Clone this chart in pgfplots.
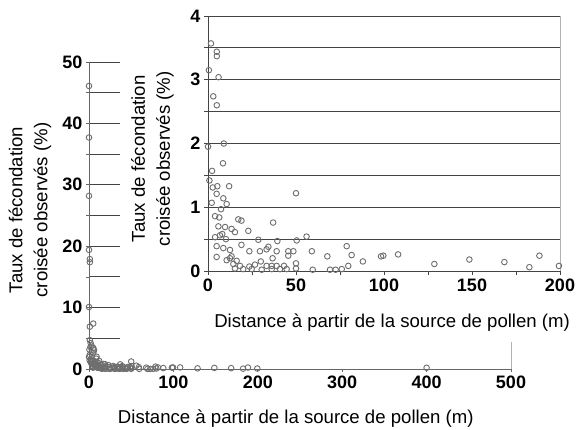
\documentclass[border=0pt]{standalone}
\usepackage{pgfplots}
\pgfplotsset{compat=1.18}
\usepackage{pgfplotstable}
\usepackage{fontspec}
\setmainfont{Liberation Sans}

\definecolor{gridc}{HTML}{444444}
\definecolor{axc}{HTML}{666666}
\definecolor{mk}{HTML}{6E6E6E}

% distance (m), taux (%)
\pgfplotstableread{
x y
1.7 3.57
5 3.44
5 3.37
0.5 3.15
6 3.04
3 2.74
5 2.60
0 1.95
9 2.00
8.5 1.69
2.3 1.57
0.8 1.42
2.7 1.31
5.3 1.33
12 1.33
4.9 1.21
8.7 1.14
10.6 1.05
2.1 1.07
7.4 0.97
50 1.22
4 0.86
6.4 0.84
17.2 0.81
19 0.79
37 0.76
5.9 0.70
9.7 0.69
13.4 0.66
15.3 0.61
22.9 0.63
4 0.53
6.8 0.56
8.1 0.58
10.2 0.50
28.6 0.49
39.4 0.47
50.4 0.48
56 0.54
4.9 0.39
8.7 0.36
12.5 0.33
19 0.41
23.5 0.31
29.5 0.31
33.3 0.34
34.3 0.38
39 0.31
45.6 0.31
48.5 0.31
59 0.31
67.8 0.23
78.8 0.39
81.6 0.25
88 0.15
98.3 0.23
4.9 0.22
12.5 0.20
16.3 0.16
36.7 0.20
45.6 0.24
30 0.15
14.4 0.11
18.2 0.08
15.3 0.04
20 0.03
23.5 0.07
26.7 0.10
33.3 0.08
36.2 0.08
39 0.08
43.2 0.08
50 0.12
50 0.04
24.8 0.03
30.5 0.02
36.2 0.03
40.9 0.03
44.7 0.03
59.5 0.02
69.3 0.02
72.5 0.02
76 0.03
79.7 0.08
10.6 0.17
13.4 0.23
99.6 0.24
108 0.26
128.6 0.11
148.5 0.18
168.4 0.14
182.6 0.06
188.3 0.24
199.4 0.08
}\pres

% points hors de l'encart
\pgfplotstableread{
x y
0 46.1
0 37.7
0 28.2
0 19.4
1 17.9
1 17.4
0 10.1
1 6.9
5 7.4
1 4.7
2 4.2
3 3.8
1 2.3
400 0.2
}\loin

\tikzset{
  labfont/.style={font=\fontsize{18.6}{25}\selectfont, align=center},
  tickfont/.style={font=\bfseries\fontsize{18}{18}\selectfont},
}
\pgfplotsset{
  pts/.style={only marks, mark=o, mark size=2.8pt, mark options={draw=mk, fill=white, line width=0.9pt}},
}

\begin{document}
\begin{tikzpicture}
\useasboundingbox (0,0) rectangle (578pt,429pt);

% graphe principal
\begin{axis}[
    at={(89pt,60pt)}, anchor=south west,
    scale only axis, width=422pt, height=307pt,
    xmin=0, xmax=500, ymin=0, ymax=50,
    axis x line*=bottom, axis y line*=left,
    axis line style={axc, line width=0.8pt},
    xtick={0,100,...,500}, ytick={0,5,...,50},
    yticklabels={0,,10,,20,,30,,40,,50},
    extra x ticks={500}, extra x tick labels={},
    extra x tick style={grid=major, major grid style={gray!60, line width=0.8pt}},
    ymajorgrids, major grid style={gridc, line width=0.9pt},
    tick style={axc, line width=0.8pt}, major tick length=3pt, tick align=outside,
    ticklabel style={tickfont},
    /pgf/number format/assume math mode=true,
    xlabel={Distance à partir de la source de pollen (m)},
    ylabel={Taux de fécondation\\croisée observés (\%)},
    xlabel style={labfont, at={(axis description cs:0.49,-0.162)}, anchor=center},
    ylabel style={labfont, at={(axis description cs:-0.14,0.518)}, anchor=center},
    clip=false,
]
\addplot[pts] table[x=x, y=y] {\pres};
\addplot[pts] table[x=x, y=y] {\loin};
\end{axis}

\fill[white] (120pt,87pt) rectangle (578pt,429pt);

% encart 0-200 m
\begin{axis}[
    at={(208pt,158pt)}, anchor=south west,
    scale only axis, width=352pt, height=255pt,
    xmin=0, xmax=200, ymin=0, ymax=4,
    axis x line*=bottom, axis y line*=left,
    axis line style={gridc, line width=0.8pt},
    xtick={0,25,...,200}, xticklabels={0,,50,,100,,150,,200},
    ytick={0,0.5,...,4}, yticklabels={0,,1,,2,,3,,4},
    extra x ticks={200}, extra x tick labels={},
    extra x tick style={grid=major, major grid style={gray!60, line width=0.8pt}},
    ymajorgrids, major grid style={gridc, line width=0.8pt},
    tick style={gridc, line width=0.8pt}, major tick length=4pt, tick align=outside,
    ticklabel style={tickfont},
    /pgf/number format/assume math mode=true,
    xlabel={Distance à partir de la source de pollen (m)},
    ylabel={Taux de fécondation\\croisée observés (\%)},
    xlabel style={labfont, at={(axis description cs:0.523,-0.204)}, anchor=center},
    ylabel style={labfont, at={(axis description cs:-0.158,0.44)}, anchor=center},
    clip=false,
]
\addplot[pts] table[x=x, y=y] {\pres};
\end{axis}
\end{tikzpicture}
\end{document}
